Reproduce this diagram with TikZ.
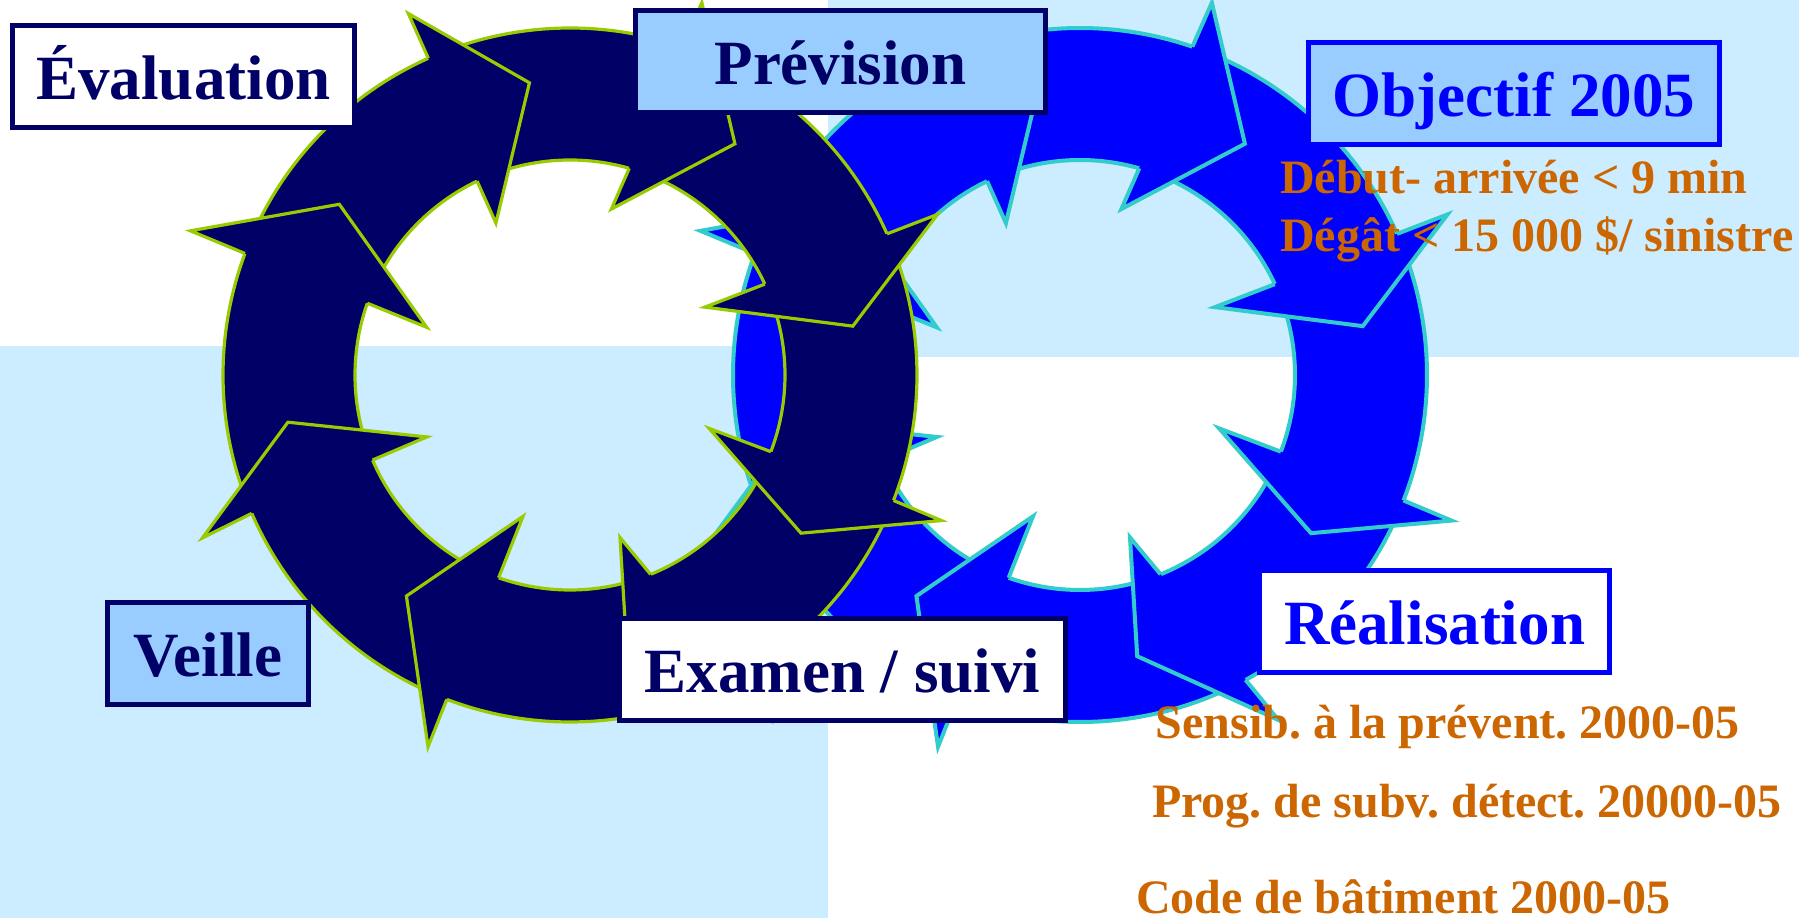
\documentclass[tikz,border=0pt]{standalone}
\usepackage{fontspec}
\setmainfont{Liberation Serif}
\frenchspacing
\definecolor{navy}{HTML}{000066}
\definecolor{lgreen}{HTML}{99CC00}
\definecolor{pureblue}{HTML}{0000FF}
\definecolor{cyanline}{HTML}{33CCCC}
\definecolor{paleblue}{HTML}{CCECFF}
\definecolor{boxblue}{HTML}{99CCFF}
\definecolor{orangetxt}{HTML}{CC6600}
% shaft: outer start, inner start, outer end, inner end
\newcommand{\rshaft}[4]{%
  \fill[ringfill] (#1:347pt) arc[start angle=#1, end angle={#3-1.5}, radius=347pt] -- ({#4-1.5}:215pt) arc[start angle={#4-1.5}, end angle=#2, radius=215pt] -- cycle;
  \draw[ringline] (#1:347pt) arc[start angle=#1, end angle=#3, radius=347pt];
  \draw[ringline] (#2:215pt) arc[start angle=#2, end angle=#4, radius=215pt];}
% head: outer joint, inner joint, outer barb (a,r), tip (a,r), inner barb (a,r)
\newcommand{\rhead}[8]{%
  \fill[ringfill] (#1:347pt) -- (#3:#4pt) -- (#5:#6pt) -- (#7:#8pt) -- (#2:215pt) -- cycle;
  \draw[ringline] (#1:347pt) -- (#3:#4pt) -- (#5:#6pt) -- (#7:#8pt) -- (#2:215pt);}
\newcommand{\ringdraw}{%
  \rshaft{156}{157}{114.1}{115.6}
  \rshaft{110.6}{112.1}{71.1}{74}
  \rshaft{67.6}{70.5}{24}{25}
  \rshaft{20.5}{21.5}{-21.2}{-20.9}
  \rshaft{-24.7}{-24.4}{-61.5}{-68}
  \rshaft{-65}{-71.5}{-110.8}{-109.4}
  \rshaft{-114.3}{-112.9}{-156.5}{-156.7}
  \rshaft{-160}{-160.2}{-200.5}{-199.5}
  \rhead{114.1}{115.6}{114.1}{396}{97.9}{295}{116}{169}
  \rhead{71.1}{74}{70.5}{395}{54.5}{284}{76}{171}
  \rhead{24}{25}{23.6}{401}{9.8}{287}{26.7}{151}
  \rhead{-21.2}{-20.9}{-21.4}{399}{-34.4}{280}{-21}{149}
  \rhead{-61.5}{-68}{-60.1}{398}{-78.5}{287}{-72.9}{170}
  \rhead{-110.8}{-109.4}{-110.9}{398}{-126.5}{275}{-108.4}{149}
  \rhead{-156.5}{-156.7}{-156.1}{402}{-170.5}{286}{-156.6}{156}
  \rhead{159.5}{160.5}{159.2}{406}{143.5}{287}{161.6}{151}}
\tikzset{
  labelbox/.style={draw, line width=5pt, inner xsep=0pt, inner ysep=0pt,
    text height=74.5pt, text depth=27.5pt, anchor=base,
    font=\bfseries\fontsize{63}{70}\selectfont},
  note/.style={inner sep=0pt, anchor=base west, text=orangetxt,
    font=\bfseries\fontsize{48}{55}\selectfont}
}
\begin{document}
\begin{tikzpicture}[x=1pt, y=1pt]
\useasboundingbox (0,0) rectangle (1799,918);
\clip (0,0) rectangle (1799,918);
% background quarters
\fill[white] (0,0) rectangle (1799,918);
\fill[paleblue] (828,561) rectangle (1799,918);
\fill[paleblue] (0,0) rectangle (828,572);
% right ring
\begin{scope}[shift={(1080,543)}, ringfill/.style={fill=pureblue},
  ringline/.style={draw=cyanline, line width=4pt, line join=miter}]
  \ringdraw
\end{scope}
% left ring
\begin{scope}[shift={(570,543)}, ringfill/.style={fill=navy},
  ringline/.style={draw=lgreen, line width=3.2pt, line join=miter}]
  \ringdraw
\end{scope}
% boxes
\node[labelbox, draw=navy, fill=white, text=navy, minimum width=342pt] (eval) at (183.5,818) {Évaluation};
\node[labelbox, draw=navy, fill=boxblue, text=navy, minimum width=410pt] (prev) at (840.5,833) {Prévision};
\node[labelbox, draw=pureblue, fill=boxblue, text=pureblue, minimum width=411pt] (obj) at (1514,801) {Objectif 2005};
\node[labelbox, draw=pureblue, fill=white, text=pureblue, minimum width=350pt] (real) at (1434.5,273) {Réalisation};
\node[labelbox, draw=navy, fill=boxblue, text=navy, minimum width=201pt] (veille) at (208,241) {Veille};
\node[labelbox, draw=navy, fill=white, text=navy, minimum width=446pt] (exam) at (842.5,225) {Examen / suivi};
% notes
\node[note] (n1) at (1280,724) {Début- arrivée < 9 min};
\node[note] (n2) at (1280,666.3) {Dégât < 15 000 \$/ sinistre};
\node[note] (n3) at (1155.6,179.7) {Sensib. à la prévent. 2000-05};
\node[note] (n4) at (1152,100.7) {Prog. de subv. détect. 20000-05};
\node[note] (n5) at (1136,4.7) {Code de bâtiment 2000-05};
\end{tikzpicture}
\end{document}
